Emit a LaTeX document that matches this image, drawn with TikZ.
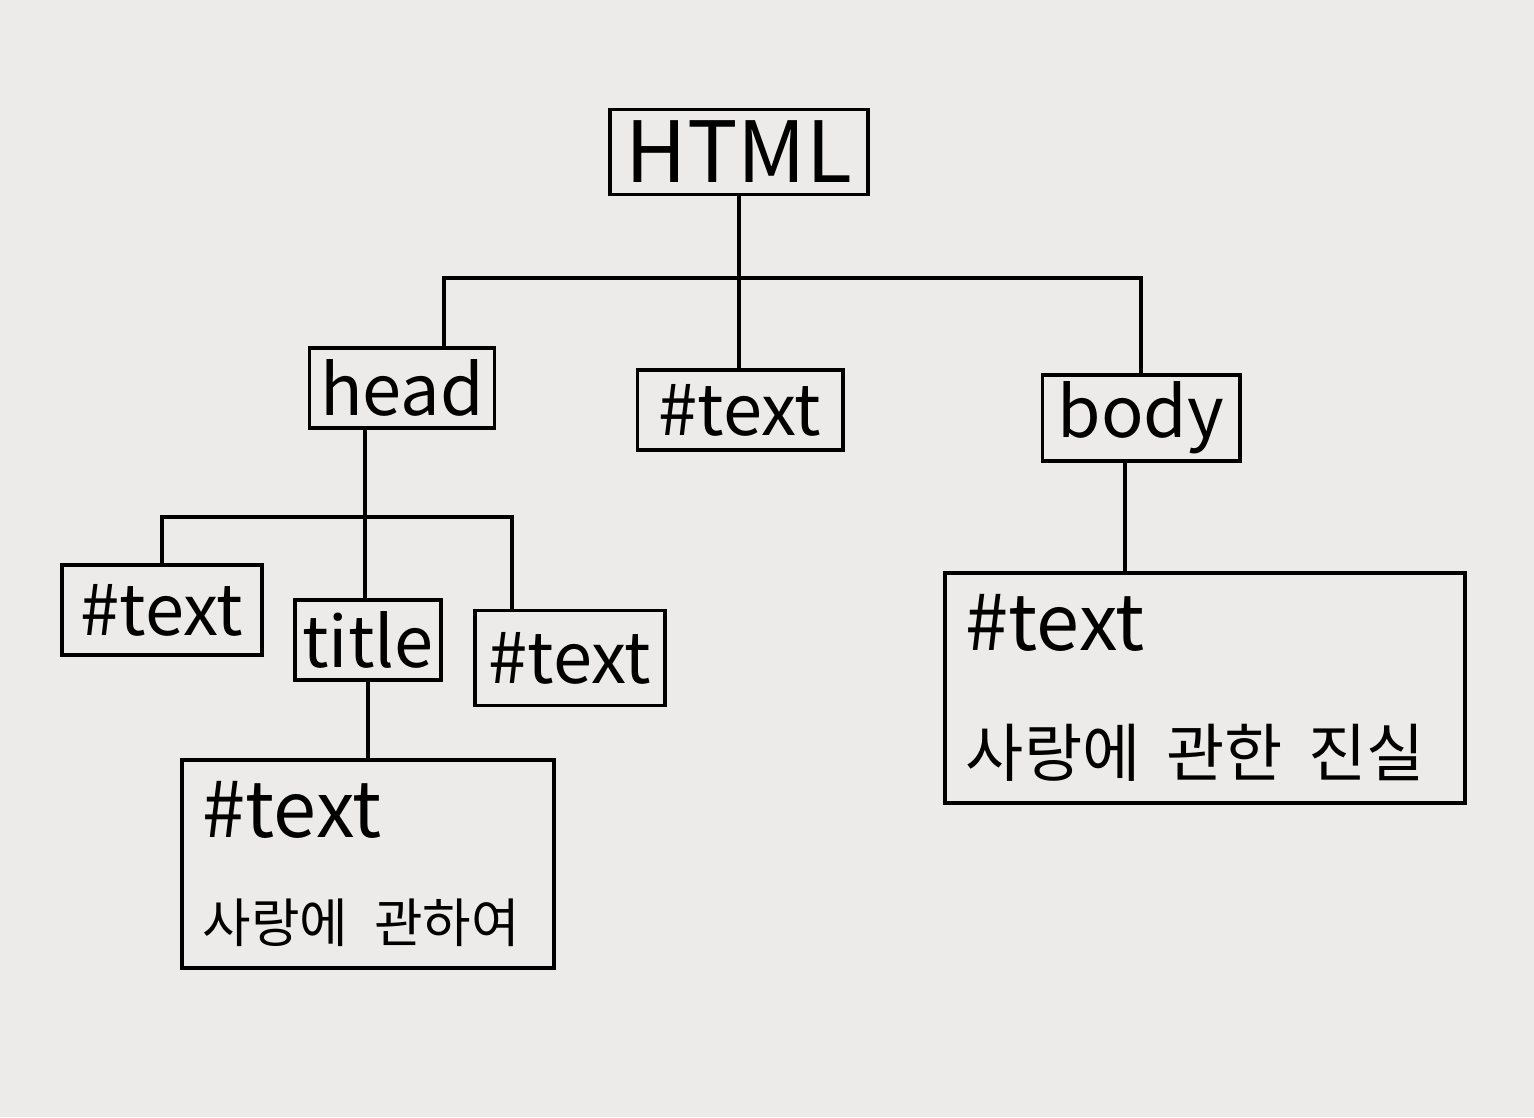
\documentclass[tikz,border=0pt]{standalone}
\usepackage{fontspec}
\setmainfont{Noto Sans CJK KR}
\usetikzlibrary{positioning}
\definecolor{paper}{RGB}{236,235,234}
\tikzset{
  tag/.style={
    draw,
    line width = 1.1pt,
    inner sep = 2pt,
    font = \fontsize{20}{24}\selectfont
  },
  leaf/.style={
    draw,
    line width = 1.1pt,
    align = left,
    inner sep = 6pt,
    font = \fontsize{22}{26}\selectfont
  },
  edge/.style={
    line width = 1.1pt
  },
}

\begin{document}
\begin{tikzpicture}[x=0.01cm,y=-0.01cm]
		  \fill[paper] (0,0) rectangle (1534,1117);
		  % tree nodes
		  \node[tag,font=\fontsize{24}{28}\selectfont,minimum width=2.58cm,minimum height=0.85cm] (html) at (739,152) {HTML};
		  \node[tag,minimum width=1.85cm,minimum height=0.8cm] (head) at (402,388) {head};
		  \node[tag,minimum width=2.05cm,minimum height=0.8cm] (txtmid) at (740,410) {\#text};
		  \node[tag,minimum width=1.97cm,minimum height=0.85cm] (body) at (1141,418) {body};
		  \node[tag,minimum width=2.0cm,minimum height=0.9cm] (txtl) at (162,610) {\#text};
		  \node[tag,minimum width=1.44cm,minimum height=0.8cm] (title) at (368,640) {title};
		  \node[tag,minimum width=1.9cm,minimum height=0.95cm] (txtr) at (570,658) {\#text};
		  \node[leaf,text width=3.3cm,minimum height=2.08cm] (txtt) at (368,864)
		    {\#text\\[4pt]{\fontsize{15}{18}\selectfont 사랑에 관하여}};
		  \node[leaf,text width=4.78cm,minimum height=2.25cm] (txtb) at (1205,688)
		    {\#text\\[10pt]{\fontsize{18}{22}\selectfont 사랑에 관한 진실}};
		  % connectors
		  \coordinate (hj) at (739,278);
		  \coordinate (hdj) at (365,517);
		  \draw[edge] (html) -- (hj);
		  \draw[edge] (hj) -| ([xshift=0.42cm]head.north);
		  \draw[edge] (hj) -- (hj |- txtmid.north);
		  \draw[edge] (hj) -| (body);
		  \draw[edge] (hdj |- head.south) -- (hdj);
		  \draw[edge] (hdj) -| (txtl);
		  \draw[edge] (hdj) -- (hdj |- title.north);
		  \draw[edge] (hdj) -| ([xshift=-0.58cm]txtr.north);
		  \draw[edge] (title) -- (txtt);
		  \draw[edge] ([xshift=-0.16cm]body.south) -- ([xshift=-0.16cm]body.south |- txtb.north);
		\end{tikzpicture}
\end{document}
